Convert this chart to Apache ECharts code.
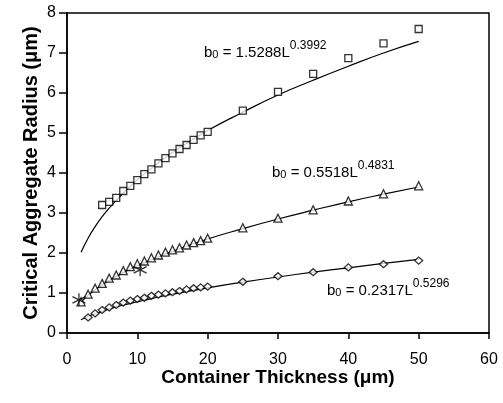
<!DOCTYPE html>
<html>
<head>
<meta charset="utf-8">
<script src="https://cdn.jsdelivr.net/npm/echarts@6/dist/echarts.min.js"></script>
<style>
  html, body { margin: 0; padding: 0; background: #fff; }
  #chart { width: 503px; height: 403px; }
</style>
</head>
<body>
<div id="chart"></div>
<script>
  // measured points (container thickness, um)
  var squareX = [5, 6, 7, 8, 9, 10, 11, 12, 13, 14, 15, 16, 17, 18, 19, 20, 25, 30, 35, 40, 45, 50]
  var squareY = [3.2, 3.28, 3.38, 3.55, 3.68, 3.82, 3.97, 4.09, 4.24, 4.37, 4.49, 4.6, 4.7, 4.83, 4.94, 5.03, 5.56, 6.03, 6.48, 6.87, 7.24, 7.6]

  var triX = [2, 3, 4, 5, 6, 7, 8, 9, 10, 11, 12, 13, 14, 15, 16, 17, 18, 19, 20, 25, 30, 35, 40, 45, 50]
  var triY = [0.78, 0.97, 1.12, 1.24, 1.37, 1.45, 1.56, 1.66, 1.73, 1.8, 1.88, 1.95, 2.02, 2.08, 2.13, 2.2, 2.26, 2.31, 2.37, 2.63, 2.87, 3.08, 3.3, 3.48, 3.68]

  var diaX = [3, 4, 5, 6, 7, 8, 9, 10, 11, 12, 13, 14, 15, 16, 17, 18, 19, 20, 25, 30, 35, 40, 45, 50]
  var diaY = [0.39, 0.49, 0.575, 0.64, 0.7, 0.76, 0.81, 0.85, 0.88, 0.93, 0.96, 0.99, 1.02, 1.05, 1.09, 1.12, 1.14, 1.16, 1.28, 1.42, 1.52, 1.64, 1.72, 1.81]

  var starX = [1.7, 10.4]
  var starY = [0.83, 1.58]

  // fitted curves
  var fitX = [2, 3, 4, 5, 6, 8, 10, 12, 15, 20, 25, 30, 35, 40, 45, 50]
  var fitTop = [2.02, 2.37, 2.66, 2.91, 3.12, 3.5, 3.83, 4.12, 4.51, 5.06, 5.52, 5.95, 6.32, 6.67, 7.0, 7.29]
  var fitMid = [0.77, 0.94, 1.08, 1.2, 1.31, 1.51, 1.68, 1.83, 2.04, 2.35, 2.61, 2.85, 3.07, 3.28, 3.47, 3.65]
  var fitLow = [0.33, 0.42, 0.48, 0.54, 0.6, 0.7, 0.78, 0.86, 0.97, 1.13, 1.27, 1.4, 1.52, 1.63, 1.74, 1.84]

  var xTicks = [0, 10, 20, 30, 40, 50, 60]
  var yTicks = [0, 1, 2, 3, 4, 5, 6, 7, 8]

  function pairs (xs, ys) {
    return xs.map(function (x, i) { return [x, ys[i]] })
  }

  var font = 'Liberation Sans, Arial, Helvetica, sans-serif'
  var star = 'path://M0,-10L0,10M-8.66,-5L8.66,5M-8.66,5L8.66,-5'

  var myChart = echarts.init(document.getElementById('chart'))

  function fitLine (data) {
    return {
      type: 'line',
      data: data,
      smooth: true,
      showSymbol: false,
      symbol: 'none',
      silent: true,
      lineStyle: {color: '#000', width: 1.2},
      z: 2
    }
  }

  function points (data, symbol, size) {
    return {
      type: 'scatter',
      data: data,
      symbol: symbol,
      symbolSize: size,
      itemStyle: {color: '#fff', borderColor: '#000', borderWidth: 1.3},
      z: 3
    }
  }

  function eq (a, b) {
    return '{t|b}{s|0}{t| = ' + a + 'L}{p|' + b + '}'
  }
  var rich = {
    t: {fontFamily: font, fontSize: 15, color: '#000', verticalAlign: 'bottom', lineHeight: 20},
    s: {fontFamily: font, fontSize: 11, color: '#000', verticalAlign: 'bottom', lineHeight: 10},
    p: {fontFamily: font, fontSize: 12, color: '#000', verticalAlign: 'top', lineHeight: 8}
  }

  var option = {
    animation: false,
    backgroundColor: '#fff',
    grid: {
      left: 67,
      right: 14,
      top: 13,
      bottom: 70,
      show: true,
      borderColor: '#000',
      borderWidth: 1.5
    },
    xAxis: {
      type: 'value',
      min: xTicks[0],
      max: xTicks[xTicks.length - 1],
      interval: 10,
      name: 'Container Thickness (\u03bcm)',
      nameLocation: 'middle',
      nameGap: 35,
      nameMoveOverlap: false,
      nameTextStyle: {fontFamily: font, fontSize: 19, fontWeight: 'bold', color: '#000'},
      axisLine: {lineStyle: {color: '#000', width: 1.5}},
      axisTick: {inside: false, length: 6, lineStyle: {color: '#000', width: 1.5}},
      axisLabel: {fontFamily: font, fontSize: 16, color: '#000', margin: 19},
      splitLine: {show: false}
    },
    yAxis: {
      type: 'value',
      min: yTicks[0],
      max: yTicks[yTicks.length - 1],
      interval: 1,
      name: 'Critical Aggregate Radius (\u03bcm)',
      nameLocation: 'middle',
      nameGap: 26,
      nameMoveOverlap: false,
      nameTextStyle: {fontFamily: font, fontSize: 20, fontWeight: 'bold', color: '#000'},
      axisLine: {show: true, lineStyle: {color: '#000', width: 1.5}},
      axisTick: {show: true, inside: false, length: 8, lineStyle: {color: '#000', width: 1.5}},
      axisLabel: {fontFamily: font, fontSize: 16, color: '#000', margin: 11},
      splitLine: {show: false}
    },
    series: [
      fitLine(pairs(fitX, fitTop)),
      fitLine(pairs(fitX, fitMid)),
      fitLine(pairs(fitX, fitLow)),
      points(pairs(squareX, squareY), 'rect', 7),
      points(pairs(triX, triY), 'triangle', 8),
      points(pairs(diaX, diaY), 'diamond', [8, 7]),
      {
        type: 'scatter',
        data: pairs(starX, starY),
        symbol: star,
        symbolSize: 13,
        itemStyle: {color: 'none', borderColor: '#000', borderWidth: 1.3},
        z: 4
      }
    ],
    graphic: [
      {type: 'text', left: 204, top: 40, style: {text: eq('1.5288', '0.3992'), rich: rich}},
      {type: 'text', left: 272, top: 160, style: {text: eq('0.5518', '0.4831'), rich: rich}},
      {type: 'text', left: 327, top: 278, style: {text: eq('0.2317', '0.5296'), rich: rich}}
    ]
  }
  myChart.setOption(option)
</script>
</body>
</html>
